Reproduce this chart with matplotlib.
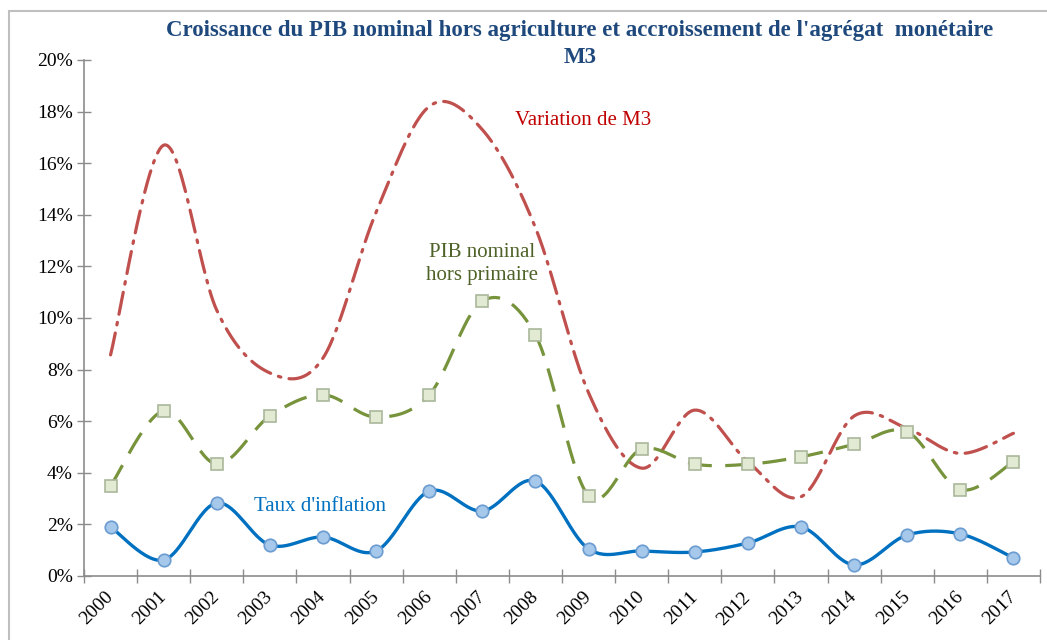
import numpy as np
import matplotlib
matplotlib.use("Agg")
import matplotlib.pyplot as plt
from matplotlib.patches import Rectangle
from matplotlib.transforms import ScaledTranslation

# ---- data ----
years = [str(y) for y in range(2000, 2018)]
m3 = [8.57, 16.7, 10.3, 7.87, 8.45, 14.1, 18.2, 17.3, 13.5, 7.1,
      4.18, 6.43, 4.43, 3.07, 6.2, 5.72, 4.75, 5.53]
pib = [3.49, 6.40, 4.34, 6.20, 7.02, 6.16, 7.02, 10.66, 9.34, 3.11,
       4.92, 4.33, 4.33, 4.62, 5.10, 5.59, 3.35, 4.43]
inflation = [1.90, 0.62, 2.83, 1.20, 1.51, 0.97, 3.29, 2.52, 3.68, 1.05,
             0.97, 0.93, 1.28, 1.90, 0.43, 1.59, 1.63, 0.70]
yticks = [0, 2, 4, 6, 8, 10, 12, 14, 16, 18, 20]
ytick_labels = [f"{v}%" for v in yticks]
title = "Croissance du PIB nominal hors agriculture et accroissement de l'agrégat  monétaire\nM3"


def smooth(xs, ys, n=30):
    """Excel-like smoothed line (Catmull-Rom as cubic Bezier)."""
    xs = np.asarray(xs, float)
    ys = np.asarray(ys, float)
    P = np.column_stack([xs, ys])
    P = np.vstack([P[0], P, P[-1]])
    out = []
    t = np.linspace(0, 1, n)[:, None]
    for i in range(1, len(P) - 2):
        p0, p1, p2, p3 = P[i - 1], P[i], P[i + 1], P[i + 2]
        c1 = p1 + (p2 - p0) / 6.0
        c2 = p2 - (p3 - p1) / 6.0
        seg = ((1 - t) ** 3) * p1 + 3 * ((1 - t) ** 2) * t * c1 + 3 * (1 - t) * t ** 2 * c2 + t ** 3 * p2
        out.append(seg if i == 1 else seg[1:])
    out = np.vstack(out)
    return out[:, 0], out[:, 1]


plt.rcParams['font.family'] = ['Liberation Serif', 'DejaVu Serif']

fig = plt.figure(figsize=(10.47, 6.4), dpi=100)
fig.patch.set_facecolor('white')
ax = fig.add_axes([84 / 1047, 1 - 576 / 640, (1040 - 84) / 1047, (576 - 60) / 640])

# outer chart border
fig.add_artist(Rectangle((9 / 1047, -0.1), 1.2, 1 - 11 / 640 + 0.1, transform=fig.transFigure,
                         fill=False, edgecolor='#bfbfbf', linewidth=1.5, zorder=0))

x = np.arange(len(years))

# M3
sx, sy = smooth(x, m3)
ax.plot(sx, sy, color='#C0504D', lw=2.3, linestyle=(0, (7, 2.6, 0.8, 2.6)),
        dash_capstyle='round', zorder=2)

# PIB
sx, sy = smooth(x, pib)
ax.plot(sx, sy, color='#77933C', lw=2.3, linestyle=(0, (7.5, 4.2)), zorder=3)
ax.plot(x, pib, linestyle='none', marker='s', markersize=8.5,
        markerfacecolor='#E3EAD3', markeredgecolor='#A9B79A', markeredgewidth=1.2, zorder=4)

# inflation
sx, sy = smooth(x, inflation)
ax.plot(sx, sy, color='#0070C0', lw=2.4, solid_capstyle='round', zorder=5)
ax.plot(x, inflation, linestyle='none', marker='o', markersize=9,
        markerfacecolor='#A6C8EA', markeredgecolor='#6A9BD1', markeredgewidth=1.2, zorder=6)

ax.set_xlim(-0.5, len(years) - 0.5)
ax.set_ylim(0, 20)

ax.set_yticks(yticks)
ax.set_yticklabels(ytick_labels, fontsize=14)
# labels on major ticks (category centres), boundary tick marks as minor ticks
ax.set_xticks(x)
ax.set_xticklabels(years, rotation=45, ha='right', va='top', fontsize=14)
ax.set_xticks(np.arange(-0.5, len(years)), minor=True)
ax.tick_params(axis='x', which='major', length=0, pad=9)
ax.tick_params(axis='x', which='minor', direction='inout', length=10, color='#8c8c8c', width=1)
ax.tick_params(axis='y', direction='inout', length=10, color='#8c8c8c', width=1, pad=3)
shift = ScaledTranslation(6 / 100, 0, fig.dpi_scale_trans)
for lab in ax.xaxis.get_majorticklabels():
    lab.set_transform(lab.get_transform() + shift)

for s in ['top', 'right']:
    ax.spines[s].set_visible(False)
for s in ['left', 'bottom']:
    ax.spines[s].set_color('#8c8c8c')
    ax.spines[s].set_linewidth(1.2)

# annotations
ax.text(8.9, 17.65, "Variation de M3", color='#C00000', fontsize=15, ha='center', va='center')
ax.text(7.0, 12.1, "PIB nominal\nhors primaire", color='#4F6228', fontsize=15,
        ha='center', va='center', linespacing=1.3)
ax.text(3.94, 2.7, "Taux d'inflation", color='#0070C0', fontsize=15, ha='center', va='center')

fig.text(580 / 1047, 1 - 44 / 640, title, ha='center', va='center', fontsize=16.5,
         fontweight='bold', color='#1F497D', linespacing=1.35)

fig.savefig('out.png', dpi=100, facecolor='white')
